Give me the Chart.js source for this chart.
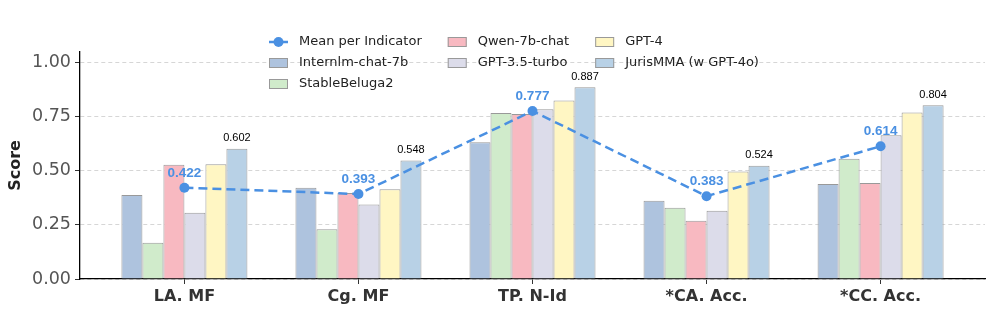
<!DOCTYPE html>
<html>
<head>
<meta charset="utf-8">
<script src="https://cdn.jsdelivr.net/npm/chart.js@4"></script>
<style>
  html, body { margin: 0; padding: 0; background: #fff; }
  #wrap { width: 996px; height: 317px; }
</style>
</head>
<body>
<div id="wrap"><canvas id="myChart" width="996" height="317"></canvas></div>
<script>
const categories = ['LA. MF', 'Cg. MF', 'TP. N-Id', '*CA. Acc.', '*CC. Acc.'];

const internlm = [0.388, 0.422, 0.632, 0.362, 0.439];
const stableBeluga = [0.168, 0.230, 0.768, 0.330, 0.556];
const qwen = [0.528, 0.398, 0.763, 0.269, 0.444];
const gpt35 = [0.307, 0.345, 0.785, 0.316, 0.665];
const gpt4 = [0.531, 0.415, 0.826, 0.497, 0.770];
const jurisMMA = [0.602, 0.548, 0.887, 0.524, 0.804];
const meanPerIndicator = [0.422, 0.393, 0.777, 0.383, 0.614];

const yTicks = [0, 0.25, 0.5, 0.75, 1.0];

const barSeries = [
  { label: 'Internlm-chat-7b', values: internlm, color: '#aec3de' },
  { label: 'StableBeluga2', values: stableBeluga, color: '#d0ebcb' },
  { label: 'Qwen-7b-chat', values: qwen, color: '#f8b9c1' },
  { label: 'GPT-3.5-turbo', values: gpt35, color: '#dcdcea' },
  { label: 'GPT-4', values: gpt4, color: '#fff6c3' },
  { label: 'JurisMMA (w GPT-4o)', values: jurisMMA, color: '#b8d1e6' }
];

const lineColor = '#4a90e2';
const ctx = document.getElementById('myChart');

const toPoints = vals => vals.map((v, i) => ({ x: i, y: v }));

const datasets = [{
  type: 'line',
  label: 'Mean per Indicator',
  data: toPoints(meanPerIndicator),
  borderColor: lineColor,
  backgroundColor: lineColor,
  borderWidth: 2.5,
  borderDash: [9, 5],
  pointRadius: 5,
  pointHoverRadius: 5,
  pointBorderWidth: 0,
  tension: 0,
  order: 0
}].concat(barSeries.map(s => ({
  type: 'bar',
  label: s.label,
  data: toPoints(s.values),
  backgroundColor: s.color,
  borderColor: '#999999',
  borderWidth: 1,
  borderSkipped: 'bottom',
  order: 1
})));

// value labels: mean above line points, JurisMMA above its bars
const labelPlugin = {
  id: 'valueLabels',
  afterDatasetsDraw(chart) {
    const c = chart.ctx;
    c.save();
    c.textAlign = 'center';
    c.textBaseline = 'bottom';
    const lineMeta = chart.getDatasetMeta(0);
    c.fillStyle = lineColor;
    c.font = 'bold 13.5px "Liberation Sans", Arial, sans-serif';
    lineMeta.data.forEach((pt, i) => {
      c.fillText(meanPerIndicator[i].toFixed(3), pt.x, pt.y - 8);
    });
    const jmMeta = chart.getDatasetMeta(datasets.length - 1);
    c.fillStyle = '#000';
    c.font = '11px "Liberation Sans", Arial, sans-serif';
    jmMeta.data.forEach((bar, i) => {
      c.fillText(jurisMMA[i].toFixed(3), bar.x, bar.y - 5);
    });
    c.restore();
  }
};

// 3-column legend, filled column by column like matplotlib (3,2,2)
const legendPlugin = {
  id: 'colLegend',
  afterDraw(chart) {
    const c = chart.ctx;
    const nCols = 3;
    const handleW = 19, handleH = 10, gap = 11, colGap = 26, rowH = 21;
    const startX = 269, startY = 42;
    c.save();
    c.font = '13px "DejaVu Sans", sans-serif';
    c.textBaseline = 'middle';
    c.textAlign = 'left';
    const items = chart.data.datasets;
    const base = Math.floor(items.length / nCols);
    const extra = items.length % nCols;
    let x = startX;
    let idx = 0;
    for (let col = 0; col < nCols; col++) {
      const count = base + (col < extra ? 1 : 0);
      let maxW = 0;
      for (let r = 0; r < count; r++) {
        const ds = items[idx++];
        const y = startY + r * rowH;
        if (ds.type === 'line') {
          c.strokeStyle = ds.borderColor;
          c.lineWidth = 2.5;
          c.beginPath();
          c.moveTo(x, y);
          c.lineTo(x + handleW, y);
          c.stroke();
          c.fillStyle = ds.borderColor;
          c.beginPath();
          c.arc(x + handleW / 2, y, 5, 0, Math.PI * 2);
          c.fill();
        } else {
          c.fillStyle = ds.backgroundColor;
          c.fillRect(x, y - handleH / 2, handleW, handleH);
          c.strokeStyle = ds.borderColor;
          c.lineWidth = 1;
          c.strokeRect(x + 0.5, y - handleH / 2 + 0.5, handleW - 1, handleH - 1);
        }
        c.fillStyle = '#222';
        c.fillText(ds.label, x + handleW + gap, y);
        maxW = Math.max(maxW, c.measureText(ds.label).width);
      }
      x += handleW + gap + maxW + colGap;
    }
    c.restore();
  }
};

new Chart(ctx, {
  type: 'bar',
  data: { datasets: datasets },
  options: {
    responsive: false,
    animation: false,
    events: [],
    layout: { padding: { top: 52, right: 11, left: 0, bottom: 0 } },
    datasets: {
      bar: { categoryPercentage: 0.724, barPercentage: 1.0, grouped: true }
    },
    plugins: {
      legend: { display: false },
      tooltip: { enabled: false }
    },
    scales: {
      x: {
        type: 'linear',
        min: -0.6,
        max: 4.6,
        offset: false,
        afterBuildTicks: scale => { scale.ticks = categories.map((c, i) => ({ value: i })); },
        afterFit: scale => { scale.height = 38; },
        ticks: {
          autoSkip: false,
          maxRotation: 0,
          padding: 3,
          color: '#333',
          font: { family: '"DejaVu Sans", sans-serif', size: 16, weight: 'bold' },
          callback: v => categories[v]
        },
        grid: {
          offset: false,
          drawOnChartArea: false,
          drawTicks: true,
          tickLength: 5,
          tickColor: '#333',
          tickWidth: 1
        },
        border: { display: true, color: '#000', width: 1.3 }
      },
      y: {
        type: 'linear',
        min: 0,
        max: 1.05,
        afterBuildTicks: scale => { scale.ticks = yTicks.map(v => ({ value: v })); },
        afterFit: scale => { scale.width = 80; },
        ticks: {
          padding: 4,
          color: '#555',
          font: { family: '"DejaVu Sans", sans-serif', size: 17.5 },
          callback: v => Number(v).toFixed(2)
        },
        grid: {
          color: '#d6d6d6',
          lineWidth: 1,
          drawTicks: true,
          tickLength: 5,
          tickColor: '#333',
          tickBorderDash: []
        },
        border: { display: true, color: '#000', width: 1.3, dash: [4, 3] },
        title: {
          display: true,
          text: 'Score',
          color: '#222',
          padding: { top: 6, bottom: 0 },
          font: { family: '"DejaVu Sans", sans-serif', size: 16, weight: 'bold' }
        }
      }
    }
  },
  plugins: [labelPlugin, legendPlugin]
});
</script>
</body>
</html>
